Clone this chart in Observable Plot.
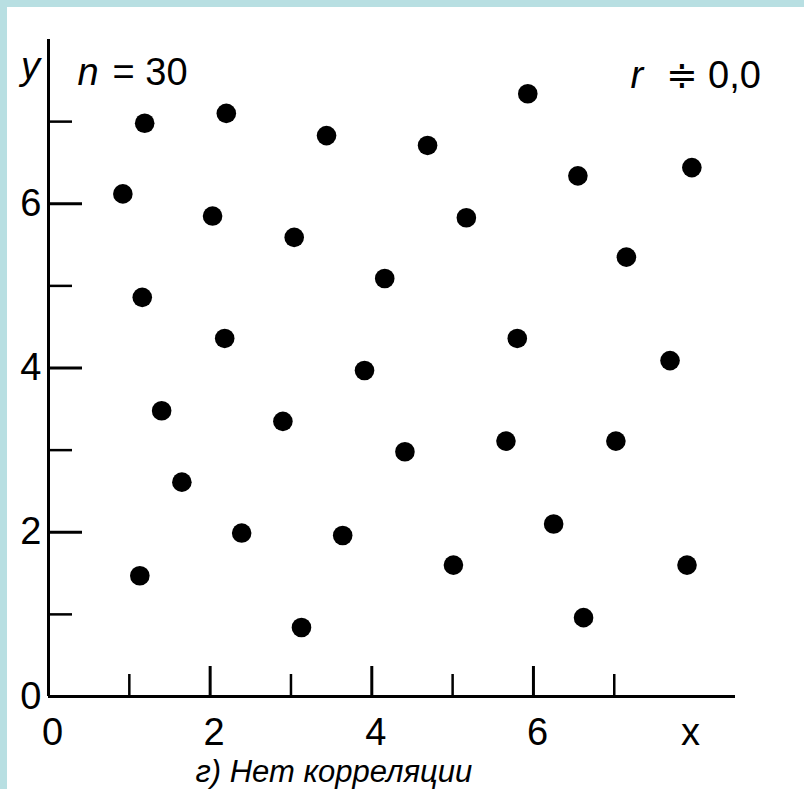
<!DOCTYPE html>
<html>
<head>
<meta charset="utf-8">
<script src="https://cdn.jsdelivr.net/npm/d3@7"></script>
<script src="https://cdn.jsdelivr.net/npm/@observablehq/plot@0.6"></script>
<style>
  html, body { margin: 0; padding: 0; overflow: hidden; }
  body { background: #b8dfe2; width: 804px; height: 789px; }
  #chart { padding: 7px 0 0 7px; }
  #chart svg { display: block; background: #fff; overflow: hidden; }
</style>
</head>
<body>
<div id="chart"></div>
<script>
// Scatter of 30-odd observations with no correlation between x and y
const xValues = [1.19, 2.20, 3.44, 0.92, 2.03, 3.04, 4.16, 1.16, 2.18, 3.91,
                 5.93, 4.69, 6.55, 7.96, 5.17, 7.15, 5.80, 7.69,
                 1.40, 2.90, 4.41, 1.65, 2.39, 3.64, 1.13, 3.13,
                 5.66, 7.02, 6.25, 5.01, 7.90, 6.62];
const yValues = [6.98, 7.10, 6.83, 6.12, 5.85, 5.59, 5.09, 4.86, 4.36, 3.97,
                 7.34, 6.71, 6.34, 6.44, 5.83, 5.35, 4.36, 4.09,
                 3.48, 3.35, 2.98, 2.61, 1.99, 1.96, 1.47, 0.84,
                 3.11, 3.11, 2.10, 1.60, 1.60, 0.96];

// Tick positions and labels
const xTickLabels = [0, 2, 4, 6];
const yTickLabels = [0, 2, 4, 6];
const majorTicks = [2, 4, 6];
const minorTicks = [1, 3, 5, 7];

// Annotation texts
const yName = "y";
const xName = "x";
const nSymbol = "n";
const nValue = "= 30";
const rSymbol = "r";
const rValue = "≑ 0,0";
const caption = "г) Нет корреляции";

const points = xValues.map((x, i) => ({x, y: yValues[i]}));

const font = "'Liberation Sans', Arial, Helvetica, sans-serif";
const ink = "#000";
const plain = d => String(d);

const chart = Plot.plot({
  width: 797,
  height: 782,
  marginLeft: 41,
  marginRight: 69,
  marginTop: 32,
  marginBottom: 93,
  style: {fontFamily: font, fontSize: "38px", color: ink, background: "#fff"},
  x: {domain: [0, 8.5], label: null},
  y: {domain: [0, 8], label: null},
  marks: [
    // tick labels
    Plot.axisX(xTickLabels, {tickSize: 0, tickPadding: 22, dx: 4, label: null, tickFormat: plain, fontSize: 38}),
    Plot.axisY(yTickLabels, {tickSize: 0, tickPadding: 7, label: null, tickFormat: plain, fontSize: 38}),
    // axis lines
    Plot.ruleX([0], {stroke: ink, strokeWidth: 3}),
    Plot.ruleY([0], {stroke: ink, strokeWidth: 3}),
    // inward ticks on the x axis
    Plot.ruleX(majorTicks, {x: d => d, y1: 0, y2: 0, insetBottom: 30, stroke: ink, strokeWidth: 3}),
    Plot.ruleX(minorTicks, {x: d => d, y1: 0, y2: 0, insetBottom: 22, stroke: ink, strokeWidth: 2.5}),
    // inward ticks on the y axis
    Plot.ruleY(majorTicks, {y: d => d, x1: 0, x2: 0, insetRight: -34, stroke: ink, strokeWidth: 3}),
    Plot.ruleY(minorTicks, {y: d => d, x1: 0, x2: 0, insetRight: -24, stroke: ink, strokeWidth: 2.5}),
    // observations
    Plot.dot(points, {x: "x", y: "y", r: 9.8, fill: ink, stroke: "none"}),
    // axis names
    Plot.text([yName], {text: d => d, frameAnchor: "top-left", dx: -18, dy: 39, lineAnchor: "bottom",
      textAnchor: "middle", fontStyle: "italic", fontSize: 38, fill: ink}),
    Plot.text([xName], {text: d => d, frameAnchor: "bottom-right", dx: -45, dy: 48, lineAnchor: "bottom",
      textAnchor: "middle", fontSize: 38, fill: ink}),
    // sample size and correlation coefficient
    Plot.text([nSymbol], {text: d => d, frameAnchor: "top-left", dx: 29, dy: 45, lineAnchor: "bottom",
      textAnchor: "start", fontStyle: "italic", fontSize: 38, fill: ink}),
    Plot.text([nValue], {text: d => d, frameAnchor: "top-left", dx: 64, dy: 45, lineAnchor: "bottom",
      textAnchor: "start", fontSize: 38, fill: ink}),
    Plot.text([rSymbol], {text: d => d, frameAnchor: "top-left", dx: 582, dy: 48, lineAnchor: "bottom",
      textAnchor: "start", fontStyle: "italic", fontSize: 38, fill: ink}),
    Plot.text([rValue], {text: d => d, frameAnchor: "top-left", dx: 617, dy: 48, lineAnchor: "bottom",
      textAnchor: "start", fontSize: 38, fill: ink}),
    // panel caption
    Plot.text([caption], {text: d => d, frameAnchor: "bottom-left", dx: 147, dy: 85, lineAnchor: "bottom",
      textAnchor: "start", fontStyle: "italic", fontSize: 31, fill: ink})
  ]
});

document.getElementById("chart").appendChild(chart);
</script>
</body>
</html>
